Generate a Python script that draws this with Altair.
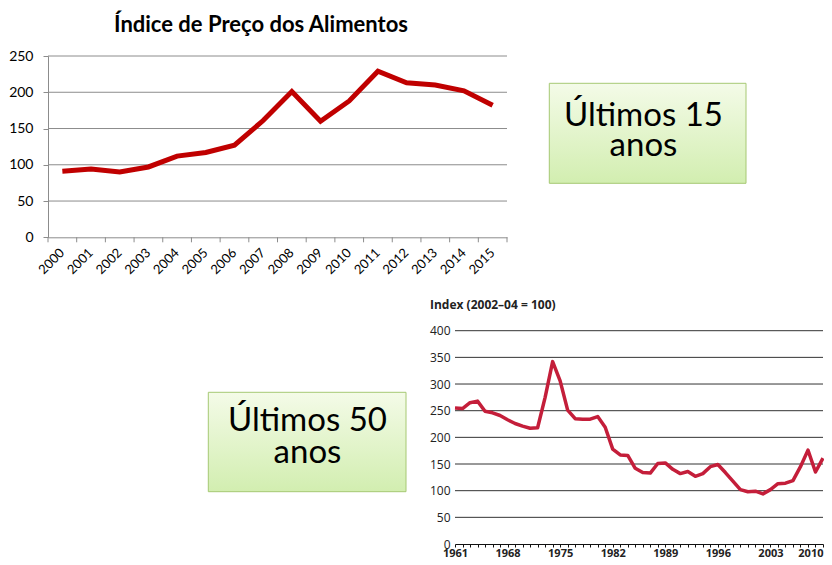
import altair as alt
import pandas as pd

# ---------------- data ----------------
top_title = "Índice de Preço dos Alimentos"
top_years = ["2000", "2001", "2002", "2003", "2004", "2005", "2006", "2007",
             "2008", "2009", "2010", "2011", "2012", "2013", "2014", "2015"]
top_values = [91, 94, 90, 97, 112, 117, 127, 161, 201, 160, 188, 229, 213, 210, 202, 182]
top_ticks = [0, 50, 100, 150, 200, 250]

bottom_title = "Index (2002–04 = 100)"
bottom_years = [1961, 1962, 1963, 1964, 1965, 1966, 1967, 1968, 1969, 1970,
                1971, 1972, 1973, 1974, 1975, 1976, 1977, 1978, 1979, 1980,
                1981, 1982, 1983, 1984, 1985, 1986, 1987, 1988, 1989, 1990,
                1991, 1992, 1993, 1994, 1995, 1996, 1997, 1998, 1999, 2000,
                2001, 2002, 2003, 2004, 2005, 2006, 2007, 2008, 2009, 2010]
bottom_values = [255, 254, 265, 268, 249, 246, 241, 233, 226, 221,
                 217, 218, 275, 342, 306, 251, 235, 234, 234, 239,
                 219, 178, 167, 166, 142, 134, 133, 151, 152, 140,
                 132, 136, 127, 132, 145, 149, 134, 118, 102, 98,
                 99, 94, 102, 113, 114, 119, 145, 176, 135, 161]
bottom_ticks = [0, 50, 100, 150, 200, 250, 300, 350, 400]
bottom_label_years = [1961, 1968, 1975, 1982, 1989, 1996, 2003, 2010]

box1_lines = ["Últimos 15", "anos"]
box2_lines = ["Últimos 50", "anos"]

# ---------------- layout (pixels inside the view) ----------------
W, H = 816, 549
TX0, TX1, TY0, TY1 = 40, 499, 229.3, 48        # top chart plot area
BX0, BX1, BY0, BY1 = 447, 815, 536, 322.7      # bottom chart plot area

TOP_FONT = "Lato"
BOT_FONT = "Open Sans"

# ---------------- top chart ----------------
top_df = pd.DataFrame({"year": top_years, "value": top_values})
top_grid_df = pd.DataFrame({"value": top_ticks[1:]})
top_last_df = pd.DataFrame({"year": top_years[-1:]})

top_x_scale = alt.Scale(type="band", domain=top_years, range=[TX0, TX1],
                        paddingInner=0, paddingOuter=0)
top_y_scale = alt.Scale(domain=[0, 250], range=[TY0, TY1], nice=False)

top_x_axis = alt.Axis(orient="bottom", offset=TY0 - H, title=None, grid=False,
                      ticks=False, tickSize=0, domain=True, domainColor="#8c8c8c",
                      labelAngle=-45, labelAlign="right", labelBaseline="middle",
                      labelPadding=13, labelFont=TOP_FONT, labelFontSize=13,
                      labelColor="#000000", labelOverlap=False)
top_y_axis = alt.Axis(orient="left", offset=-TX0, title=None, grid=False,
                      values=top_ticks, ticks=True, tickSize=5, tickColor="#8c8c8c",
                      domain=True, domainColor="#8c8c8c", labelPadding=10,
                      labelFont=TOP_FONT, labelFontSize=14, labelColor="#000000")

top_grid = alt.Chart(top_grid_df).mark_rule(color="#8c8c8c", strokeWidth=1).encode(
    y=alt.Y("value:Q", scale=top_y_scale, axis=top_y_axis),
    x=alt.value(TX0), x2=alt.value(TX1),
)
top_tick = alt.Chart(top_df).mark_rule(color="#8c8c8c", strokeWidth=1).encode(
    x=alt.X("year:O", scale=top_x_scale, axis=top_x_axis, bandPosition=0),
    y=alt.value(TY0), y2=alt.value(TY0 + 5),
)
top_tick_end = alt.Chart(top_last_df).mark_rule(color="#8c8c8c", strokeWidth=1).encode(
    x=alt.X("year:O", scale=top_x_scale, axis=top_x_axis, bandPosition=1),
    y=alt.value(TY0), y2=alt.value(TY0 + 5),
)
top_line = alt.Chart(top_df).mark_line(color="#c00000", strokeWidth=5,
                                       strokeJoin="miter", strokeCap="butt").encode(
    x=alt.X("year:O", scale=top_x_scale, bandPosition=0.5, axis=top_x_axis),
    y=alt.Y("value:Q", scale=top_y_scale, axis=top_y_axis),
)
top_layer = alt.layer(top_grid, top_tick, top_tick_end, top_line)

# ---------------- bottom chart ----------------
bot_df = pd.DataFrame({"year": bottom_years, "value": bottom_values})
bot_grid_df = pd.DataFrame({"value": bottom_ticks[1:]})

bot_x_scale = alt.Scale(domain=[bottom_years[0], bottom_years[-1]], range=[BX0, BX1],
                        nice=False, zero=False)
bot_y_scale = alt.Scale(domain=[0, 400], range=[BY0, BY1], nice=False)

label_test = "indexof(" + str(bottom_label_years) + ", datum.value) >= 0 ? datum.label : ''"
last_year_test = "datum.value == " + str(bottom_years[-1])
bot_x_axis = alt.Axis(orient="bottom", offset=BY0 - H, title=None, grid=False,
                      values=bottom_years, format="d", labelExpr=label_test,
                      ticks=True, tickSize=3, tickColor="#111111", tickWidth=1,
                      domain=True, domainColor="#111111", domainWidth=1.2,
                      labelPadding=0, labelFont=BOT_FONT, labelFontSize=11,
                      labelFontWeight="bold", labelColor="#222222",
                      labelAlign={"condition": {"test": last_year_test, "value": "right"},
                                  "value": "center"},
                      labelOverlap=False, labelFlush=False, labelBaseline="top")
bot_y_axis = alt.Axis(orient="left", offset=-BX0, title=None, grid=False,
                      values=bottom_ticks, ticks=False, tickSize=0, domain=False,
                      labelPadding=5, labelFont=BOT_FONT, labelFontSize=12,
                      labelColor="#222222")

bot_grid = alt.Chart(bot_grid_df).mark_rule(color="#333333", strokeWidth=1).encode(
    y=alt.Y("value:Q", scale=bot_y_scale, axis=bot_y_axis),
    x=alt.value(BX0), x2=alt.value(BX1),
)
bot_line = alt.Chart(bot_df).mark_line(color="#c41e3a", strokeWidth=3.5,
                                       strokeJoin="round").encode(
    x=alt.X("year:Q", scale=bot_x_scale, axis=bot_x_axis),
    y=alt.Y("value:Q", scale=bot_y_scale, axis=bot_y_axis),
)
bot_layer = alt.layer(bot_grid, bot_line)

# ---------------- titles ----------------
one = pd.DataFrame({"k": [0]})
top_title_mark = alt.Chart(pd.DataFrame({"t": [top_title]})).mark_text(
    font=TOP_FONT, fontSize=22, fontWeight="bold", color="#000000",
    align="center", baseline="alphabetic").encode(
    text="t:N", x=alt.value(253), y=alt.value(24))
bot_title_mark = alt.Chart(pd.DataFrame({"t": [bottom_title]})).mark_text(
    font=BOT_FONT, fontSize=12, fontWeight="bold", color="#222222",
    align="left", baseline="alphabetic").encode(
    text="t:N", x=alt.value(422), y=alt.value(301))

# ---------------- green boxes ----------------
grad = alt.LinearGradient(
    gradient="linear",
    stops=[alt.GradientStop(color="#f4fbe8", offset=0),
           alt.GradientStop(color="#d2eeb0", offset=1)],
    x1=0, x2=0, y1=0, y2=1)


def box(lines, x0, x1, y0, y1, cx, base1, base2):
    rect = alt.Chart(one).mark_rect(fill=grad, stroke="#a6c873", strokeWidth=1).encode(
        x=alt.value(x0), x2=alt.value(x1), y=alt.value(y0), y2=alt.value(y1))
    t1 = alt.Chart(pd.DataFrame({"t": [lines[0]]})).mark_text(
        font=TOP_FONT, fontSize=33, color="#000000", align="center",
        baseline="alphabetic").encode(text="t:N", x=alt.value(cx), y=alt.value(base1))
    t2 = alt.Chart(pd.DataFrame({"t": [lines[1]]})).mark_text(
        font=TOP_FONT, fontSize=33, color="#000000", align="center",
        baseline="alphabetic").encode(text="t:N", x=alt.value(cx), y=alt.value(base2))
    return [rect, t1, t2]


box1 = box(box1_lines, 541.3, 738, 75.3, 175.3, 635.5, 117.7, 148)
box2 = box(box2_lines, 200.3, 398, 384.3, 483.7, 299.5, 422.7, 455.3)

chart = alt.layer(
    top_layer, bot_layer, top_title_mark, bot_title_mark, *box1, *box2
).resolve_scale(
    x="independent", y="independent"
).properties(
    width=W, height=H, padding=0, autosize=alt.AutoSizeParams(type="none"),
    background="white"
).configure_view(stroke=None)

chart.save("out.html", embed_options={"renderer": "svg", "actions": False})
